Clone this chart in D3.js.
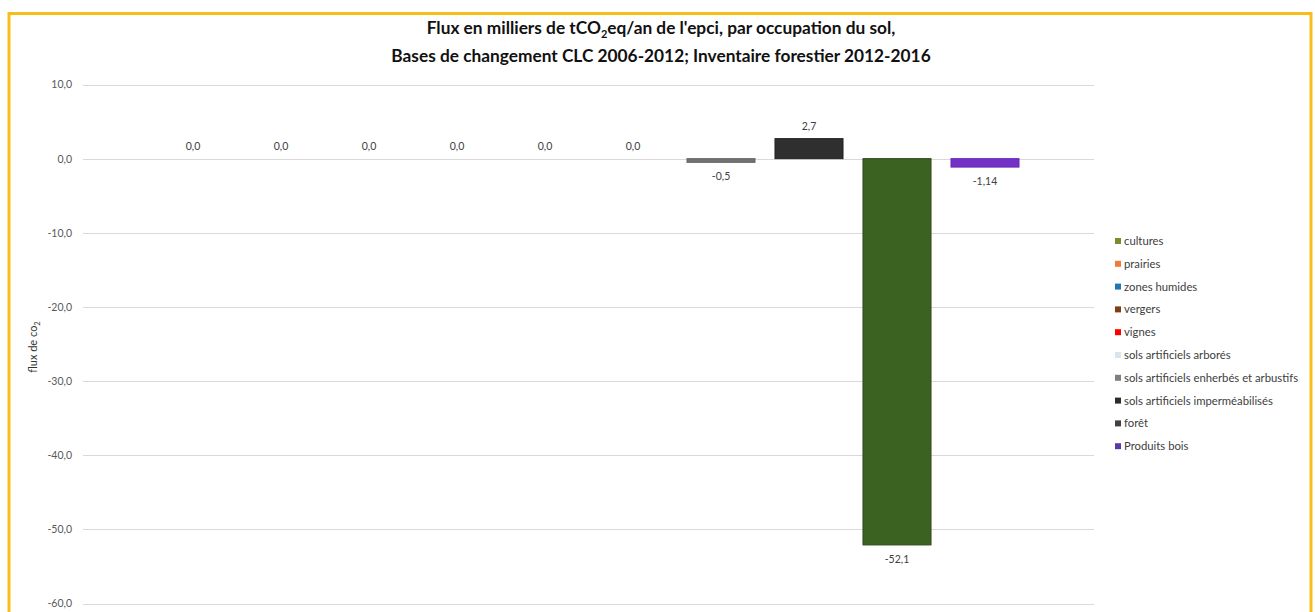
<!DOCTYPE html>
<html>
<head>
<meta charset="utf-8">
<script src="https://cdn.jsdelivr.net/npm/d3@7"></script>
<style>
  html, body { margin: 0; padding: 0; background: #fff; }
  svg { display: block; font-family: Lato, "Open Sans", sans-serif; }
</style>
</head>
<body>
<svg id="chart" width="1315" height="612"></svg>
<script>
// Land-use categories (one bar each)
const categories = [
  "cultures",
  "prairies",
  "zones humides",
  "vergers",
  "vignes",
  "sols artificiels arborés",
  "sols artificiels enherbés et arbustifs",
  "sols artificiels imperméabilisés",
  "forêt",
  "Produits bois"
];
// CO2 flux, thousands of tCO2eq per year
const values = [0.0, 0.0, 0.0, 0.0, 0.0, 0.0, -0.5, 2.7, -52.1, -1.14];
// Labels printed next to each bar
const valueLabels = ["0,0", "0,0", "0,0", "0,0", "0,0", "0,0", "-0,5", "2,7", "-52,1", "-1,14"];
// Bar fills and legend swatches
const barColors = ["#7a8c2e", "#ef7d3a", "#2277b3", "#7f3f14", "#ff0000", "#d9e4ef", "#737373", "#2f2f2f", "#3b6220", "#7431c6"];
const legendColors = ["#7a8c2e", "#ef7d3a", "#2277b3", "#7f3f14", "#ff0000", "#d9e4ef", "#7f7f7f", "#2b2b2b", "#404040", "#5a3aa6"];
const barStroke = [null, null, null, null, null, null, "#666", "#222", "#2c4a17", "#6a2ab8"];
// Y axis ticks
const yTicks = [10, 0, -10, -20, -30, -40, -50, -60];

const svg = d3.select("#chart");
const fmt = v => d3.format(".1f")(v).replace(".", ",").replace("−", "-");

// Frame
svg.append("rect")
  .attr("x", 9).attr("y", 13.5)
  .attr("width", 1302).attr("height", 620)
  .attr("fill", "#fff")
  .attr("stroke", "#f9bd1a").attr("stroke-width", 3);

// Title
const title = svg.append("text")
  .attr("text-anchor", "middle")
  .attr("font-weight", "bold")
  .attr("font-size", 17.3)
  .attr("fill", "#111");
const l1 = title.append("tspan").attr("x", 661).attr("y", 34);
l1.append("tspan").text("Flux en milliers de tCO");
l1.append("tspan").attr("font-size", 11).attr("dy", 3.5).text("2");
l1.append("tspan").attr("dy", -3.5).text("eq/an de l'epci, par occupation du sol,");
title.append("tspan").attr("x", 661).attr("y", 62)
  .text("Bases de changement CLC 2006-2012; Inventaire forestier 2012-2016");

// Scales
const y = d3.scaleLinear().domain([-60, 10]).range([603.5, 84.5]);
const x = d3.scaleBand().domain(categories)
  .range([149, 1029]).paddingInner(0.227).paddingOuter(0.1135);

// Gridlines
svg.append("g")
  .selectAll("line")
  .data(yTicks)
  .join("line")
  .attr("x1", 83).attr("x2", 1094)
  .attr("y1", d => Math.round(y(d)) + 0.5)
  .attr("y2", d => Math.round(y(d)) + 0.5)
  .attr("stroke", "#d9d9d9").attr("stroke-width", 1.2);

// Y axis labels
const yAxis = d3.axisLeft(y).tickValues(yTicks).tickSize(0).tickPadding(0)
  .tickFormat(fmt);
const gy = svg.append("g").attr("transform", "translate(72,0)").call(yAxis);
gy.select(".domain").remove();
gy.selectAll("text").attr("font-size", 10.5).attr("fill", "#595959")
  .attr("font-family", "Lato, sans-serif");

// Y axis title
svg.append("text")
  .attr("transform", "translate(37,347) rotate(-90)")
  .attr("text-anchor", "middle")
  .attr("font-size", 11).attr("fill", "#333")
  .call(t => {
    t.append("tspan").text("flux de co");
    t.append("tspan").attr("font-size", 7.5).attr("dy", 3).text("2");
  });

// Bars
svg.append("g")
  .selectAll("rect")
  .data(values)
  .join("rect")
  .attr("x", (d, i) => x(categories[i]))
  .attr("width", x.bandwidth())
  .attr("y", d => Math.min(y(d), y(0)))
  .attr("height", d => Math.abs(y(d) - y(0)))
  .attr("fill", (d, i) => barColors[i])
  .attr("stroke", (d, i) => d === 0 ? "none" : barStroke[i])
  .attr("stroke-width", 1);

// Value labels
svg.append("g")
  .selectAll("text")
  .data(values)
  .join("text")
  .attr("x", (d, i) => x(categories[i]) + x.bandwidth() / 2)
  .attr("y", d => d >= 0 ? y(d) - 9 : y(d) + 18)
  .attr("text-anchor", "middle")
  .attr("font-size", 10.5).attr("fill", "#404040")
  .text((d, i) => valueLabels[i]);

// Legend
const legend = svg.append("g")
  .selectAll("g")
  .data(categories)
  .join("g")
  .attr("transform", (d, i) => `translate(1115,${241 + i * 22.8})`);
legend.append("rect")
  .attr("x", 0).attr("y", -3)
  .attr("width", 6).attr("height", 6)
  .attr("fill", (d, i) => legendColors[i]);
legend.append("text")
  .attr("x", 9).attr("y", 4)
  .attr("font-size", 11.3).attr("fill", "#404040")
  .text(d => d);
</script>
</body>
</html>
